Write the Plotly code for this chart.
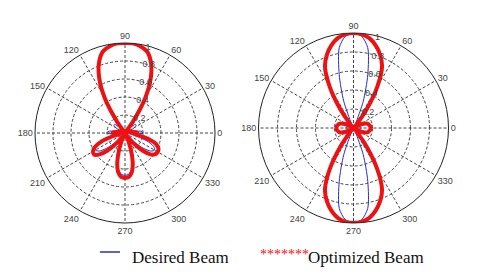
import plotly.graph_objects as go

# angles (degrees) shared by all series
theta = list(range(0, 365, 5))

# Left plot
left_desired = [0.20, 0.19, 0.12, 0.05, 0.02, 0.06, 0.12, 0.15, 0.15, 0.10, 0.16, 0.30, 0.47, 0.66, 0.83, 0.93, 0.98, 1.00,
                 1.00,
                 1.00, 0.98, 0.93, 0.83, 0.66, 0.47, 0.30, 0.16, 0.10, 0.15, 0.15, 0.12, 0.06, 0.02, 0.05, 0.12, 0.19,
                 0.20,
                 0.12, 0.05, 0.14, 0.26, 0.35, 0.38, 0.35, 0.26, 0.14, 0.04, 0.00, 0.00, 0.04, 0.16, 0.30, 0.41, 0.46,
                 0.47,
                 0.46, 0.41, 0.30, 0.16, 0.04, 0.00, 0.00, 0.04, 0.14, 0.26, 0.35, 0.38, 0.35, 0.26, 0.14, 0.05, 0.12,
                 0.20]
left_optimized = [0.14, 0.12, 0.08, 0.04, 0.02, 0.02, 0.02, 0.02, 0.02, 0.02, 0.00, 0.15, 0.45, 0.68, 0.84, 0.94, 0.98, 1.00,
                  1.00,
                  1.00, 0.98, 0.94, 0.84, 0.68, 0.45, 0.15, 0.00, 0.02, 0.02, 0.02, 0.02, 0.02, 0.02, 0.04, 0.08, 0.12,
                  0.14,
                  0.10, 0.06, 0.15, 0.28, 0.37, 0.41, 0.42, 0.37, 0.28, 0.15, 0.04, 0.00, 0.05, 0.18, 0.33, 0.44, 0.49,
                  0.50,
                  0.49, 0.44, 0.33, 0.18, 0.05, 0.00, 0.04, 0.15, 0.28, 0.37, 0.41, 0.42, 0.41, 0.37, 0.28, 0.15, 0.10,
                  0.14]

# Right plot
right_desired = [0.08, 0.08, 0.07, 0.05, 0.03, 0.01, 0.00, 0.00, 0.00, 0.00, 0.00, 0.00, 0.00, 0.05, 0.30, 0.58, 0.86, 0.97,
                 1.00,
                 0.97, 0.86, 0.58, 0.30, 0.05, 0.00, 0.00, 0.00, 0.00, 0.00, 0.00, 0.00, 0.01, 0.03, 0.05, 0.07, 0.08,
                 0.08,
                 0.08, 0.07, 0.05, 0.03, 0.01, 0.00, 0.00, 0.00, 0.00, 0.00, 0.00, 0.00, 0.05, 0.30, 0.58, 0.86, 0.97,
                 1.00,
                 0.97, 0.86, 0.58, 0.30, 0.05, 0.00, 0.00, 0.00, 0.00, 0.00, 0.00, 0.00, 0.01, 0.03, 0.05, 0.07, 0.08,
                 0.08]
right_optimized = [0.18, 0.18, 0.17, 0.16, 0.14, 0.10, 0.04, 0.00, 0.00, 0.00, 0.05, 0.25, 0.50, 0.71, 0.82, 0.90, 0.96, 0.99,
                   1.00,
                   0.99, 0.96, 0.90, 0.82, 0.71, 0.50, 0.25, 0.05, 0.00, 0.00, 0.00, 0.04, 0.10, 0.14, 0.16, 0.17, 0.18,
                   0.18,
                   0.18, 0.17, 0.16, 0.14, 0.10, 0.04, 0.00, 0.00, 0.00, 0.05, 0.25, 0.50, 0.71, 0.82, 0.90, 0.96, 0.99,
                   1.00,
                   0.99, 0.96, 0.90, 0.82, 0.71, 0.50, 0.25, 0.05, 0.00, 0.00, 0.00, 0.04, 0.10, 0.14, 0.16, 0.17, 0.18,
                   0.18]

angle_ticks = list(range(0, 360, 30))
angle_labels = [str(a) for a in angle_ticks]
radial_ticks = [0.2, 0.4, 0.6, 0.8, 1.0]
radial_labels = ["0.2", "0.4", "0.6", "0.8", "1"]

W, H = 480, 277
BLUE = "#2b2bcc"
RED = "#ee1111"

fig = go.Figure()
for sub, des, opt in (("polar", left_desired, left_optimized), ("polar2", right_desired, right_optimized)):
    fig.add_trace(go.Scatterpolar(r=des, theta=theta, mode="lines", subplot=sub,
                                  line=dict(color=BLUE, width=1, shape="spline", smoothing=0.8),
                                  name="Desired Beam", hoverinfo="skip"))
    fig.add_trace(go.Scatterpolar(r=opt, theta=theta, mode="lines", subplot=sub,
                                  line=dict(color=RED, width=4, shape="spline", smoothing=0.8),
                                  name="Optimized Beam", hoverinfo="skip"))


def polar_layout(cx, cy, rad):
    return dict(
        domain=dict(x=[(cx - rad) / W, (cx + rad) / W], y=[1 - (cy + rad) / H, 1 - (cy - rad) / H]),
        bgcolor="white",
        angularaxis=dict(rotation=0, direction="counterclockwise", tickvals=angle_ticks, ticktext=angle_labels,
                         showline=True, linecolor="#222", linewidth=1, ticks="",
                         showgrid=True, gridcolor="#444", gridwidth=0.8, griddash="3px,2px",
                         tickfont=dict(family="Liberation Sans, Arial", size=9, color="#444")),
        radialaxis=dict(range=[0, 1], tickvals=radial_ticks, ticktext=radial_labels, angle=80, tickangle=80,
                        showline=False, ticks="", showgrid=True, gridcolor="#444", gridwidth=0.8,
                        griddash="3px,2px",
                        tickfont=dict(family="Liberation Sans, Arial", size=9, color="#444")),
    )


fig.update_layout(
    width=W, height=H, margin=dict(l=0, r=0, t=0, b=0),
    paper_bgcolor="white", showlegend=False,
    polar=polar_layout(125, 133, 90),
    polar2=polar_layout(353.5, 128, 95),
)

# legend drawn as a line + texts
fig.add_shape(type="line", xref="paper", yref="paper", x0=100 / W, x1=120 / W, y0=1 - 252 / H, y1=1 - 252 / H,
              line=dict(color=BLUE, width=1.5))
serif = "Times New Roman, Liberation Serif, serif"
fig.add_annotation(xref="paper", yref="paper", x=130 / W, y=1 - 257 / H, xanchor="left", yanchor="middle",
                   text="Desired Beam", showarrow=False, font=dict(family=serif, size=17, color="#111"))
fig.add_annotation(xref="paper", yref="paper", x=258 / W, y=1 - 254 / H, xanchor="left", yanchor="middle",
                   text="*******", showarrow=False, font=dict(family=serif, size=14, color=RED))
fig.add_annotation(xref="paper", yref="paper", x=306 / W, y=1 - 257 / H, xanchor="left", yanchor="middle",
                   text="Optimized Beam", showarrow=False, font=dict(family=serif, size=17, color="#111"))

fig.write_html("out.html", config={"displayModeBar": False},
               post_script="document.body.style.margin='0';")
